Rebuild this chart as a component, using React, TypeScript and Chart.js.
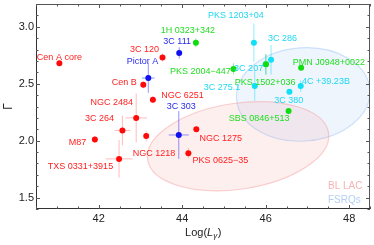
import React, { useEffect, useRef } from "react";
import { Chart, registerables } from "chart.js";

Chart.register(...registerables);

// ---------- data ----------
const redNames = ["Cen A core", "3C 120", "Cen B", "NGC 6251", "NGC 2484", "3C 264", "M87", "NGC 1218", "TXS 0331+3915", "NGC 1275", "PKS 0625\u221235"];
const redX = [41.06, 43.53, 43.07, 43.30, 42.90, 42.57, 41.91, 43.14, 42.49, 44.34, 44.15];
const redY = [2.68, 2.73, 2.49, 2.36, 2.20, 2.09, 2.01, 2.04, 1.84, 2.10, 1.89];
const redXErr = [0, 0, 0, 0, 0.26, 0.19, 0, 0, 0.32, 0, 0];
const redYErr = [0, 0.035, 0.03, 0.03, 0.215, 0.13, 0.03, 0.045, 0.165, 0, 0.045];

const blueNames = ["3C 111", "Pictor A", "3C 303"];
const blueX = [43.93, 43.19, 43.92];
const blueY = [2.77, 2.55, 2.05];
const blueXErr = [0, 0.15, 0.24];
const blueYErr = [0.05, 0.13, 0.21];

const greenNames = ["1H 0323+342", "PKS 2004\u2212447", "PKS 1502+036", "PMN J0948+0022", "SBS 0846+513"];
const greenX = [44.33, 45.23, 46.01, 46.85, 46.55];
const greenY = [2.86, 2.63, 2.67, 2.64, 2.26];
const greenXErr = [0, 0, 0, 0, 0];
const greenYErr = [0.04, 0.05, 0.09, 0, 0];

const cyanNames = ["PKS 1203+04", "3C 286", "3C 207", "3C 275.1", "3C 380", "4C +39.23B"];
const cyanX = [45.72, 46.13, 46.00, 45.74, 46.57, 46.84];
const cyanY = [2.86, 2.71, 2.67, 2.48, 2.43, 2.48];
const cyanXErr = [0, 0, 0, 0, 0, 0];
const cyanYErr = [0.17, 0.13, 0.09, 0.13, 0.02, 0.05];

const xTicks = [42, 44, 46, 48];
const yTicks = [1.5, 2.0, 2.5, 3.0];
const legendNames = ["BL LAC", "FSRQs"];

// ---------- styling / layout (not data) ----------
const redLabelOffsets = [[0, -5.5], [-18, -7.6], [-19, -2], [29.7, -4.4], [-24.5, -15], [-23, -11.7], [-17.3, 3], [7.8, 17.4], [-38.6, 7.7], [24.4, 9.4], [32, 7]];
const blueLabelOffsets = [[-2, -11.5], [-5.7, -17], [2.4, -28.3]];
const greenLabelOffsets = [[-8, -12.7], [-33, 2.3], [-1, 18.3], [27.7, -5.7], [-29.5, 7.7]];
const cyanLabelOffsets = [[-18, -27.4], [11.4, -21.6], [-17, 3.7], [-32.7, 1.7], [-0.7, 9], [25.3, -4]];

// ellipses: center (data), semi-axes (data units), rotation (deg, screen)
const ellipses = [
  { cx: 46.90, cy: 2.406, rx: 1.60, ry: 0.41, rot: -4, fill: "rgba(150,195,245,0.16)", stroke: "rgba(150,195,245,0.45)" },
  { cx: 45.34, cy: 1.951, rx: 2.19, ry: 0.377, rot: -8.4, fill: "rgba(245,130,130,0.13)", stroke: "rgba(245,150,150,0.45)" },
];

const FONT = '"Liberation Sans", Arial, Helvetica, sans-serif';

type Group = { names: string[]; x: number[]; y: number[]; xe: number[]; ye: number[]; color: string; label: string; err: string; off: number[][] };
const groups: Group[] = [
  { names: redNames, x: redX, y: redY, xe: redXErr, ye: redYErr, color: "#ff0a0a", label: "#ff2020", err: "rgba(255,60,60,0.35)", off: redLabelOffsets },
  { names: blueNames, x: blueX, y: blueY, xe: blueXErr, ye: blueYErr, color: "#1010ee", label: "#2a2aee", err: "rgba(40,40,255,0.5)", off: blueLabelOffsets },
  { names: cyanNames, x: cyanX, y: cyanY, xe: cyanXErr, ye: cyanYErr, color: "#10e0f5", label: "#20d8f0", err: "rgba(0,215,250,0.45)", off: cyanLabelOffsets },
  { names: greenNames, x: greenX, y: greenY, xe: greenXErr, ye: greenYErr, color: "#10dd10", label: "#22dd22", err: "rgba(30,210,30,0.45)", off: greenLabelOffsets },
];

const overlay = {
  id: "overlay",
  beforeDatasetsDraw(chart: any) {
    const { ctx, chartArea: a, scales } = chart;
    const xs = scales.x, ys = scales.y;
    ctx.save();
    ctx.beginPath();
    ctx.rect(a.left, a.top, a.right - a.left, a.bottom - a.top);
    ctx.clip();
    for (const e of ellipses) {
      const cx = xs.getPixelForValue(e.cx), cy = ys.getPixelForValue(e.cy);
      const rx = Math.abs(xs.getPixelForValue(e.cx + e.rx) - cx);
      const ry = Math.abs(ys.getPixelForValue(e.cy + e.ry) - cy);
      ctx.beginPath();
      ctx.ellipse(cx, cy, rx, ry, (e.rot * Math.PI) / 180, 0, Math.PI * 2);
      ctx.fillStyle = e.fill;
      ctx.fill();
      ctx.strokeStyle = e.stroke;
      ctx.lineWidth = 1.2;
      ctx.stroke();
    }
    // error bars
    ctx.lineWidth = 1;
    for (const g of groups) {
      ctx.strokeStyle = g.err;
      for (let i = 0; i < g.x.length; i++) {
        const px = xs.getPixelForValue(g.x[i]), py = ys.getPixelForValue(g.y[i]);
        if (g.ye[i] > 0) {
          ctx.beginPath();
          ctx.moveTo(px, ys.getPixelForValue(g.y[i] + g.ye[i]));
          ctx.lineTo(px, ys.getPixelForValue(g.y[i] - g.ye[i]));
          ctx.stroke();
        }
        if (g.xe[i] > 0) {
          ctx.beginPath();
          ctx.moveTo(xs.getPixelForValue(g.x[i] - g.xe[i]), py);
          ctx.lineTo(xs.getPixelForValue(g.x[i] + g.xe[i]), py);
          ctx.stroke();
        }
      }
    }
    ctx.restore();
  },
  afterDatasetsDraw(chart: any) {
    const { ctx, chartArea: a, scales } = chart;
    const xs = scales.x, ys = scales.y;
    ctx.save();
    // labels
    ctx.font = `9px ${FONT}`;
    ctx.textAlign = "center";
    ctx.textBaseline = "middle";
    for (const g of groups) {
      ctx.fillStyle = g.label;
      for (let i = 0; i < g.x.length; i++) {
        const px = xs.getPixelForValue(g.x[i]), py = ys.getPixelForValue(g.y[i]);
        ctx.fillText(g.names[i], px + g.off[i][0], py + g.off[i][1]);
      }
    }
    // legend text
    ctx.font = `10px ${FONT}`;
    ctx.textAlign = "left";
    ctx.fillStyle = "#f5b3b3";
    ctx.fillText(legendNames[0], a.right - 42, a.bottom - 23);
    ctx.fillStyle = "#b3cff3";
    ctx.fillText(legendNames[1], a.right - 42, a.bottom - 9);

    // frame
    ctx.lineWidth = 1;
    ctx.strokeStyle = "#555";
    ctx.strokeRect(a.left + 0.5, a.top + 0.5, a.right - a.left - 1, a.bottom - a.top - 1);
    ctx.strokeStyle = "#333";
    ctx.beginPath();
    ctx.moveTo(a.left + 0.5, a.top);
    ctx.lineTo(a.left + 0.5, a.bottom - 0.5);
    ctx.lineTo(a.right, a.bottom - 0.5);
    ctx.stroke();
    // inward ticks
    ctx.strokeStyle = "#555";
    ctx.beginPath();
    for (let v = Math.ceil(xs.min * 2) / 2; v <= xs.max + 1e-9; v += 0.5) {
      const px = Math.round(xs.getPixelForValue(v)) + 0.5;
      const major = Math.abs(v / 2 - Math.round(v / 2)) < 1e-9;
      const len = major ? 4 : 2.5;
      ctx.moveTo(px, a.bottom); ctx.lineTo(px, a.bottom - len);
      ctx.moveTo(px, a.top); ctx.lineTo(px, a.top + len);
    }
    for (let k = Math.ceil(ys.min * 10); k <= Math.floor(ys.max * 10 + 1e-9); k++) {
      const v = k / 10;
      const py = Math.round(ys.getPixelForValue(v)) + 0.5;
      const major = k % 5 === 0;
      const len = major ? 4 : 2.5;
      ctx.moveTo(a.left, py); ctx.lineTo(a.left + len, py);
      ctx.moveTo(a.right, py); ctx.lineTo(a.right - len, py);
    }
    ctx.stroke();

    // x title: Log(L_γ)
    const cx = (a.left + a.right) / 2;
    const ty = 233;
    const p1 = "Log(", p2 = "L", p3 = "\u03b3", p4 = ")";
    const f1 = `11px ${FONT}`, f2 = `italic 11px ${FONT}`, f3 = `italic 8px ${FONT}`;
    ctx.font = f1; const w1 = ctx.measureText(p1).width; const w4 = ctx.measureText(p4).width;
    ctx.font = f2; const w2 = ctx.measureText(p2).width;
    ctx.font = f3; const w3 = ctx.measureText(p3).width;
    let x0 = cx - (w1 + w2 + w3 + w4) / 2;
    ctx.fillStyle = "#222";
    ctx.textAlign = "left";
    ctx.textBaseline = "middle";
    ctx.font = f1; ctx.fillText(p1, x0, ty); x0 += w1;
    ctx.font = f2; ctx.fillText(p2, x0, ty); x0 += w2;
    ctx.font = f3; ctx.fillText(p3, x0, ty + 3); x0 += w3 + 0.5;
    ctx.font = f1; ctx.fillText(p4, x0, ty);
    ctx.restore();
  },
};

export default function App() {
  const ref = useRef<HTMLCanvasElement>(null);
  useEffect(() => {
    if (!ref.current) return;
    const datasets = groups.map((g, gi) => ({
      label: "g" + gi,
      data: g.x.map((x, i) => ({ x, y: g.y[i] })),
      backgroundColor: g.color,
      borderWidth: 0,
      pointRadius: 3,
      order: groups.length - gi,
    }));
    const chart = new Chart(ref.current, {
      type: "scatter",
      data: { datasets },
      options: {
        responsive: false,
        animation: false,
        layout: { padding: { top: 1, right: 2, left: 0, bottom: 0 } },
        plugins: { legend: { display: false }, tooltip: { enabled: false } },
        scales: {
          x: {
            type: "linear",
            min: 40.5,
            max: 48.5,
            grid: { display: false, drawTicks: false },
            border: { display: false },
            ticks: { font: { size: 11, family: FONT }, color: "#222", padding: 3 },
            afterBuildTicks: (s: any) => { s.ticks = xTicks.map((v) => ({ value: v })); },
            afterFit: (s: any) => { s.height = 36; s.paddingLeft = 0; s.paddingRight = 0; },
          },
          y: {
            type: "linear",
            min: 1.4,
            max: 3.2,
            grid: { display: false, drawTicks: false },
            border: { display: false },
            ticks: { font: { size: 11, family: FONT }, color: "#222", padding: 2, callback: (v: any) => Number(v).toFixed(1) },
            title: { display: true, text: "\u0393", font: { size: 12, family: FONT }, color: "#222", padding: { top: 1, bottom: 0 } },
            afterBuildTicks: (s: any) => { s.ticks = yTicks.map((v) => ({ value: v })); },
            afterFit: (s: any) => { s.width = 36; s.paddingTop = 0; s.paddingBottom = 0; },
          },
        },
      },
      plugins: [overlay],
    } as any);
    return () => chart.destroy();
  }, []);
  return (
    <div style={{ position: "absolute", left: 0, top: 0, width: 374, height: 245, background: "#fff" }}>
      <canvas ref={ref} width={374} height={245} style={{ display: "block", width: 374, height: 245 }} />
    </div>
  );
}
